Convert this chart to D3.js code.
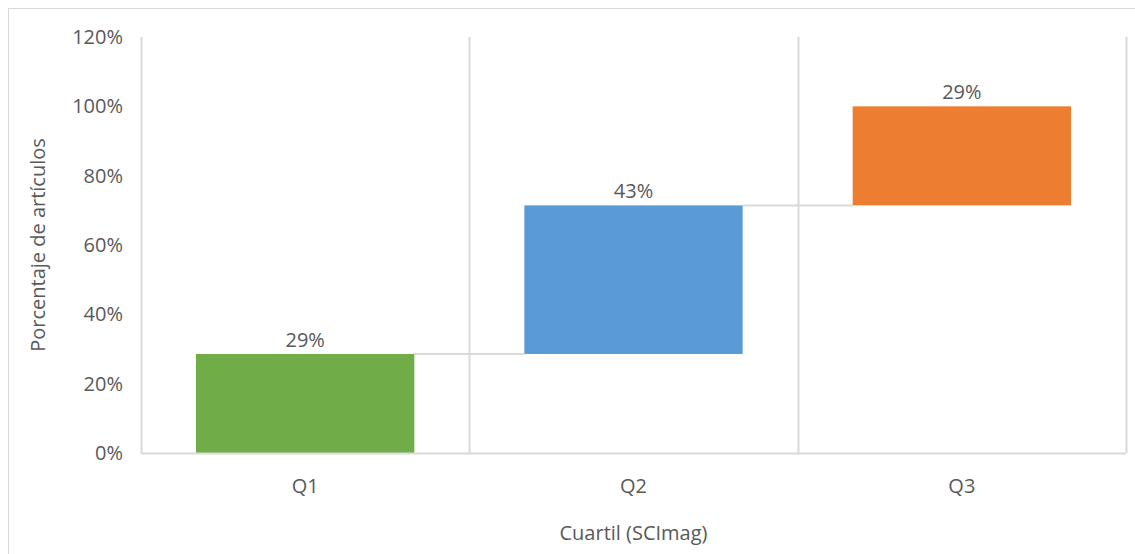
<!DOCTYPE html>
<html>
<head>
<meta charset="utf-8">
<script src="https://cdn.jsdelivr.net/npm/d3@7"></script>
<style>
  html, body { margin: 0; padding: 0; background: #fff; }
  svg { display: block; font-family: "Open Sans", sans-serif; }
</style>
</head>
<body>
<svg id="chart" width="1135" height="554"></svg>
<script>
// Cuartiles and share of articles in each one (percent)
const categories = ["Q1", "Q2", "Q3"];
const values = [28.57, 42.86, 28.57];
const valueLabels = ["29%", "43%", "29%"];
const barColors = ["#70ad47", "#5b9bd5", "#ed7d31"];
const yTicks = [0, 20, 40, 60, 80, 100, 120];

const svg = d3.select("#chart");
const W = 1135, H = 554;
const margin = { left: 141, right: 9, top: 37, bottom: 101 };
const plotW = W - margin.left - margin.right;
const plotH = H - margin.top - margin.bottom;

// Outer chart frame (extends past the visible area on right/bottom)
svg.append("rect")
  .attr("x", 8.5).attr("y", 8.5)
  .attr("width", W + 20).attr("height", H + 20)
  .attr("fill", "none").attr("stroke", "#d9d9d9").attr("stroke-width", 1);

const g = svg.append("g").attr("transform", `translate(${margin.left},${margin.top})`);

const x = d3.scaleBand().domain(categories).range([0, plotW]).paddingInner(0.335).paddingOuter(0.1675);
const y = d3.scaleLinear().domain([0, 120]).range([plotH, 0]);

// Running totals for the waterfall
let acc = 0;
const steps = categories.map((c, i) => {
  const start = acc;
  acc += values[i];
  return { cat: c, start, end: acc, label: valueLabels[i], color: barColors[i] };
});

// Vertical gridlines at category boundaries
const step = x.step();
const boundaries = d3.range(categories.length + 1).map(i => i * step);
g.selectAll("line.vgrid").data(boundaries).join("line")
  .attr("class", "vgrid")
  .attr("x1", d => Math.round(d) + 0.5).attr("x2", d => Math.round(d) + 0.5)
  .attr("y1", 0).attr("y2", plotH)
  .attr("stroke", "#d9d9d9").attr("stroke-width", 2);

// Connectors between consecutive bars
g.selectAll("line.conn").data(steps.slice(0, -1)).join("line")
  .attr("class", "conn")
  .attr("x1", (d) => x(d.cat) + x.bandwidth())
  .attr("x2", (d, i) => x(steps[i + 1].cat))
  .attr("y1", d => y(d.end)).attr("y2", d => y(d.end))
  .attr("stroke", "#d9d9d9").attr("stroke-width", 2);

// Bars
g.selectAll("rect.bar").data(steps).join("rect")
  .attr("class", "bar")
  .attr("x", d => x(d.cat))
  .attr("width", x.bandwidth())
  .attr("y", d => y(d.end))
  .attr("height", d => y(d.start) - y(d.end))
  .attr("fill", d => d.color);

// Value labels
g.selectAll("text.val").data(steps).join("text")
  .attr("class", "val")
  .attr("x", d => x(d.cat) + x.bandwidth() / 2)
  .attr("y", d => y(d.end) - 7)
  .attr("text-anchor", "middle")
  .attr("font-size", 20)
  .attr("fill", "#595959")
  .text(d => d.label);

// Bottom axis line
g.append("line")
  .attr("x1", 0).attr("x2", plotW)
  .attr("y1", plotH + 0.5).attr("y2", plotH + 0.5)
  .attr("stroke", "#d9d9d9").attr("stroke-width", 2);

// Y axis
const yAxis = g.append("g")
  .call(d3.axisLeft(y).tickValues(yTicks).tickSize(0).tickPadding(18).tickFormat(d => d + "%"));
yAxis.select(".domain").remove();
yAxis.selectAll("text").attr("font-size", 20).attr("fill", "#595959").attr("font-family", "Open Sans, sans-serif");

// X axis
const xAxis = g.append("g").attr("transform", `translate(0,${plotH})`)
  .call(d3.axisBottom(x).tickSize(0).tickPadding(26));
xAxis.select(".domain").remove();
xAxis.selectAll("text").attr("font-size", 20).attr("fill", "#595959").attr("font-family", "Open Sans, sans-serif");

// Axis titles
svg.append("text")
  .attr("transform", `translate(45,${margin.top + plotH / 2}) rotate(-90)`)
  .attr("text-anchor", "middle")
  .attr("font-size", 20).attr("fill", "#595959")
  .text("Porcentaje de artículos");

svg.append("text")
  .attr("x", margin.left + plotW / 2).attr("y", 540)
  .attr("text-anchor", "middle")
  .attr("font-size", 20).attr("fill", "#595959")
  .text("Cuartil (SCImag)");
</script>
</body>
</html>
